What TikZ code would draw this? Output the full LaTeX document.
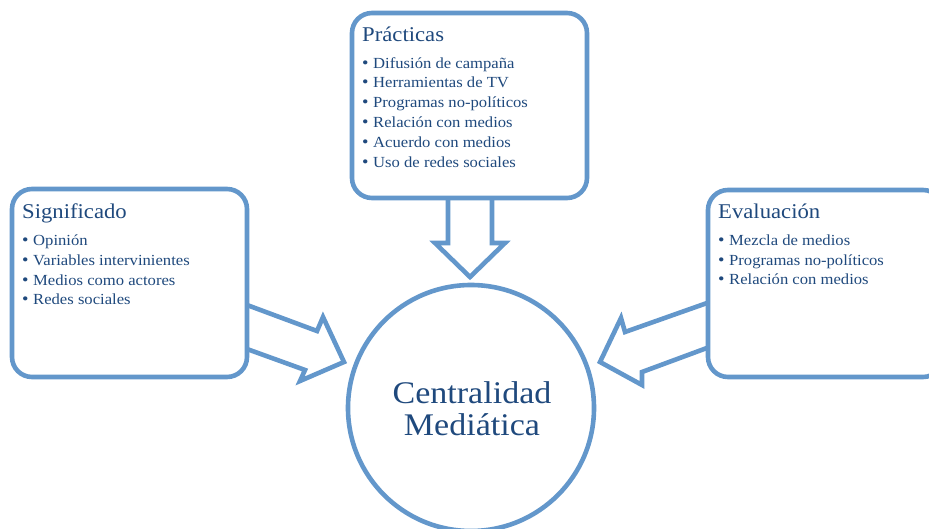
\documentclass[tikz,border=0pt]{standalone}
\usepackage{fontspec}
\setmainfont{Liberation Serif}[FakeStretch=1.08]
\definecolor{edgeblue}{RGB}{99,151,203}
\definecolor{ink}{RGB}{31,73,125}
\tikzset{
  panel/.style={draw=edgeblue, line width=4.6pt, rounded corners=20pt, fill=white,
    minimum width=235pt, inner sep=0pt},
  hub/.style={draw=edgeblue, line width=4.6pt, circle, fill=white, minimum size=246pt, inner sep=0pt},
  blockarrow/.style={draw=edgeblue, line width=4.6pt, fill=white, line join=miter},
  paneltitle/.style={text=ink, font=\fontsize{21}{24}\selectfont, anchor=base west, inner sep=0pt},
  paneitem/.style={text=ink, font=\fontsize{15.4}{18}\selectfont, anchor=base west, inner sep=0pt},
  hubtext/.style={text=ink, font=\fontsize{31.5}{36}\selectfont, anchor=base, inner sep=0pt}
}
\newcommand{\bul}{\makebox[11pt][l]{\fontsize{17}{18}\selectfont •}}
\begin{document}
\begin{tikzpicture}[x=1pt,y=-1pt]
\useasboundingbox (0,0) rectangle (929,529);

% block arrows (bases hidden under the panels)
\draw[blockarrow] (448,190) -- (448,243) -- (435,243) -- (470,277) -- (505,243) -- (492,243) -- (492,190) -- cycle;
\draw[blockarrow] (240,302.4) -- (317,331) -- (323,317) -- (344,362) -- (300,381) -- (305,370) -- (240,346.5) -- cycle;
\draw[blockarrow] (715,300.2) -- (625,332) -- (621,318) -- (600,362) -- (642,385) -- (642,372) -- (715,345) -- cycle;

% panels
\node[panel, minimum height=185pt] (practicas) at (469.5,105.5) {};
\node[panel, minimum height=188pt] (significado) at (129.5,283) {};
\node[panel, minimum height=187pt] (evaluacion) at (825.5,283.5) {};
\node[hub] (centro) at (471,408) {};

% Prácticas
\node[paneltitle] (pt) at (362,42) {Prácticas};
\node[paneitem] (p1) at (362,69) {\bul Difusión de campaña};
\node[paneitem] (p2) at (362,88) {\bul Herramientas de TV};
\node[paneitem] (p3) at (362,108) {\bul Programas no-políticos};
\node[paneitem] (p4) at (362,128) {\bul Relación con medios};
\node[paneitem] (p5) at (362,148) {\bul Acuerdo con medios};
\node[paneitem] (p6) at (362,167.5) {\bul Uso de redes sociales};

% Significado
\node[paneltitle] (st) at (22,219) {Significado};
\node[paneitem] (s1) at (22,246) {\bul Opinión};
\node[paneitem] (s2) at (22,265.5) {\bul Variables intervinientes};
\node[paneitem] (s3) at (22,286) {\bul Medios como actores};
\node[paneitem] (s4) at (22,305) {\bul Redes sociales};

% Evaluación
\node[paneltitle] (et) at (718,219) {Evaluación};
\node[paneitem] (e1) at (718,245.5) {\bul Mezcla de medios};
\node[paneitem] (e2) at (718,265.5) {\bul Programas no-políticos};
\node[paneitem] (e3) at (718,285) {\bul Relación con medios};

% centre
\node[hubtext] (c1) at (472,403) {Centralidad};
\node[hubtext] (c2) at (472,435) {Mediática};
\end{tikzpicture}
\end{document}
